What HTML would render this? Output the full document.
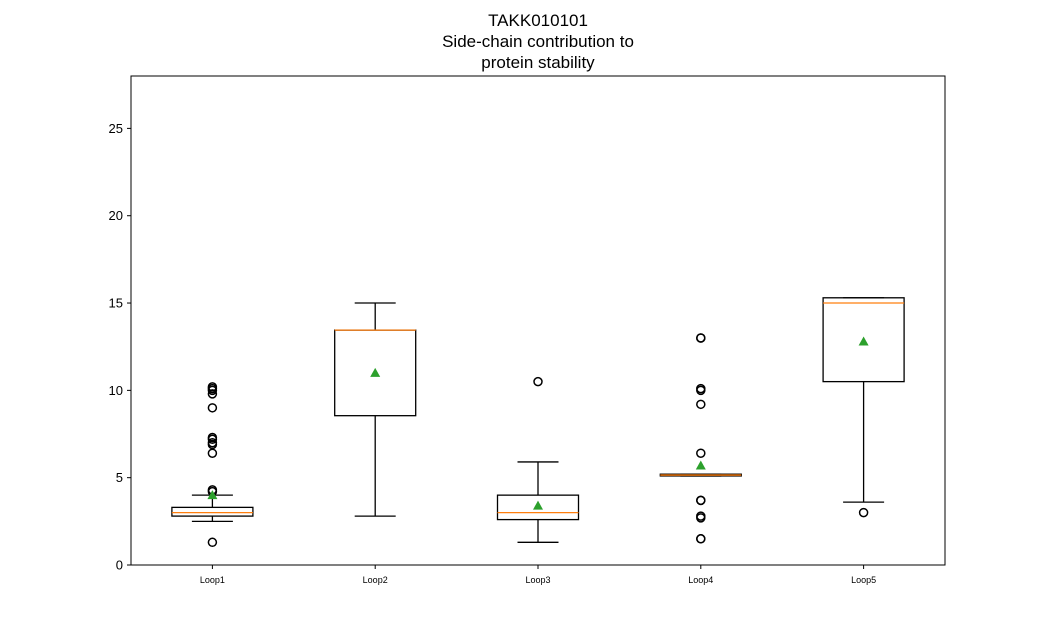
<!DOCTYPE html>
<html><head><meta charset="utf-8"><style>
body{margin:0;background:#fff;font-family:"Liberation Sans","DejaVu Sans",sans-serif}
svg text{font-family:"Liberation Sans","DejaVu Sans",sans-serif}
</style></head><body>
<svg id="chart" width="1050" height="635" xmlns="http://www.w3.org/2000/svg">
<rect width="1050" height="635" fill="#fff"/>
<text x="538" y="26" font-size="17" text-anchor="middle">TAKK010101</text>
<text x="538" y="47" font-size="17" text-anchor="middle">Side-chain contribution to</text>
<text x="538" y="68" font-size="17" text-anchor="middle">protein stability</text>
<g id="plot"></g>
<rect x="131" y="76" width="814" height="489" fill="none" stroke="#000" stroke-width="1"/>
</svg>
<script>
const categories=["Loop1","Loop2","Loop3","Loop4","Loop5"];
const whiskerLow=[2.5,2.8,1.3,5.1,3.6];
const q1=[2.8,8.55,2.6,5.1,10.5];
const medians=[3.0,13.45,3.0,5.15,15.0];
const q3=[3.3,13.45,4.0,5.2,15.3];
const whiskerHigh=[4.0,15.0,5.9,5.2,15.3];
const means=[4.0,11.0,3.4,5.7,12.8];
const outliers=[[1.3,4.2,4.3,6.4,6.9,7.0,7.2,7.3,9.0,9.8,10.0,10.1,10.2],[],[10.5],[1.5,1.5,2.7,2.8,3.7,3.7,6.4,9.2,10.0,10.1,13.0,13.0],[3.0]];
const yTicks=[0,5,10,15,20,25];
const yMax=28;
const NS="http://www.w3.org/2000/svg";
const L=131,R=945,T=76,B=565;
function y(v){return B-(v/yMax)*(B-T);}
function x(i){return L+(R-L)*(i+0.5)/categories.length;}
const g=document.getElementById('plot');
function mk(tag,attrs){const e=document.createElementNS(NS,tag);for(const k in attrs)e.setAttribute(k,attrs[k]);g.appendChild(e);return e;}
yTicks.forEach(t=>{
 const tk=mk('line',{x1:L-4,x2:L,y1:y(t),y2:y(t),stroke:'#000'});
 
 
 const tx=mk('text',{x:L-8,y:y(t)+4.5,'font-size':13,'text-anchor':'end'});
 tx.textContent=t;
 
 
});
const hw=40.5, cap=20.5;
categories.forEach((c,i)=>{
 const cx=x(i);
 const tk=mk('line',{x1:cx,x2:cx,y1:B,y2:B+4,stroke:'#000'});
 
 
 const lb=mk('text',{x:cx,y:B+18,'font-size':9,'text-anchor':'middle'});
 lb.textContent=c;
 
 
 const w1=mk('line',{x1:cx,x2:cx,y1:y(whiskerLow[i]),y2:y(q1[i]),stroke:'#000','stroke-width':1.3});
 
 
 const w2=mk('line',{x1:cx,x2:cx,y1:y(q3[i]),y2:y(whiskerHigh[i]),stroke:'#000','stroke-width':1.3});
 
 
 const c1=mk('line',{x1:cx-cap,x2:cx+cap,y1:y(whiskerLow[i]),y2:y(whiskerLow[i]),stroke:'#000','stroke-width':1.3});
 
 
 const c2=mk('line',{x1:cx-cap,x2:cx+cap,y1:y(whiskerHigh[i]),y2:y(whiskerHigh[i]),stroke:'#000','stroke-width':1.3});
 
 
 const bx=mk('rect',{x:cx-hw,y:y(q3[i]),width:2*hw,height:Math.max(0,y(q1[i])-y(q3[i])),fill:'none',stroke:'#000','stroke-width':1.3});
 
 
 const md=mk('line',{x1:cx-hw,x2:cx+hw,y1:y(medians[i]),y2:y(medians[i]),stroke:'#ff7f0e','stroke-width':1.3});
 
 
 outliers[i].forEach(v=>{
  const o=mk('circle',{cx:cx,cy:y(v),r:4,fill:'none',stroke:'#000','stroke-width':1.5});
  
  
 });
 const my=y(means[i]);
 const m=mk('polygon',{points:`${cx},${my-5} ${cx-5},${my+4} ${cx+5},${my+4}`,fill:'#2ca02c'});
 
 
});
</script>
</body></html>
